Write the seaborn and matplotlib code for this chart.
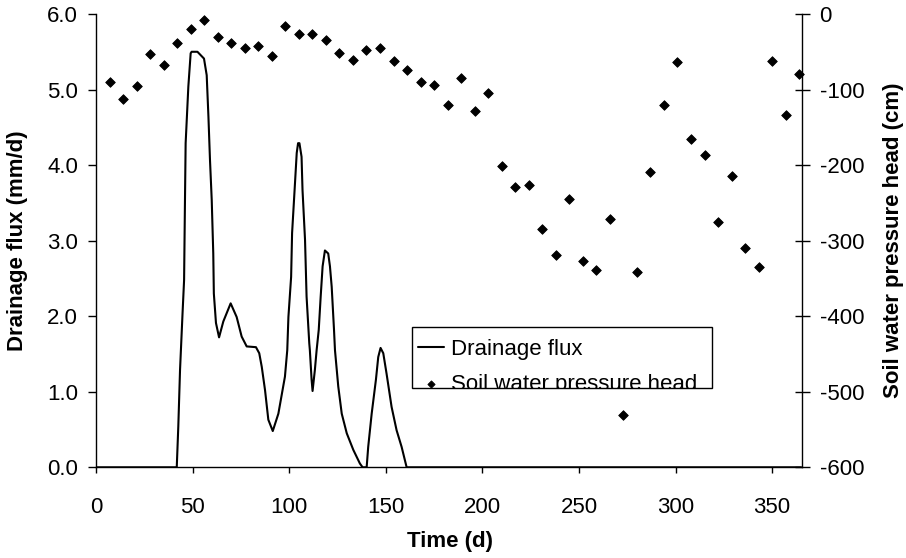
import matplotlib
matplotlib.use("Agg")
import matplotlib.pyplot as plt
from matplotlib.patches import Rectangle
from matplotlib.transforms import TransformedBbox, Bbox
import seaborn as sns
import pandas as pd

# ---- data ----
flux_day = [0, 41.8, 42.6, 43.5, 44.8, 45.6, 46.0, 46.4, 47.8, 49.0, 49.5, 52.5,
            55.9, 57.3, 58.2, 59.0, 59.9, 60.7, 61.0, 62.1, 63.7, 65.9, 69.7,
            72.8, 75.4, 78.0, 82.8, 84.5, 85.8, 87.5, 89.2, 91.5, 94.4, 97.8,
            99.0, 99.6, 101.0, 101.5, 103.0, 103.9, 104.6, 105.3, 106.4, 106.9,
            108.2, 109.0, 110.4, 110.7, 111.6, 112.1, 113.3, 114.2, 115.3,
            116.3, 117.3, 118.5, 120.2, 121.1, 122.0, 123.2, 123.7, 125.4,
            127.2, 129.8, 133.2, 136.6, 138.0, 140.1, 140.9, 142.7, 144.9,
            146.1, 147.3, 148.7, 150.4, 153.0, 155.6, 158.2, 160.8, 365]
flux_val = [0, 0, 0.54, 1.29, 2.04, 2.48, 3.41, 4.29, 5.04, 5.48, 5.50, 5.50,
            5.41, 5.19, 4.64, 4.07, 3.54, 2.83, 2.30, 1.91, 1.72, 1.93, 2.17,
            1.99, 1.73, 1.60, 1.59, 1.51, 1.33, 1.02, 0.63, 0.48, 0.71, 1.20,
            1.55, 1.99, 2.52, 3.10, 3.76, 4.16, 4.29, 4.29, 4.11, 3.67,
            3.01, 2.26, 1.64, 1.55, 1.16, 1.01, 1.29, 1.55, 1.82,
            2.26, 2.66, 2.87, 2.83, 2.66, 2.39, 1.82, 1.55, 1.07,
            0.71, 0.45, 0.23, 0.05, 0, 0, 0.27, 0.71, 1.16,
            1.46, 1.58, 1.51, 1.24, 0.80, 0.49, 0.27, 0, 0]

head_day = [7, 14, 21, 28, 35, 42, 49, 56, 63, 70, 77, 84, 91, 98, 105, 112, 119,
            126, 133, 140, 147, 154, 161, 168, 175, 182, 189, 196, 203, 210, 217,
            224, 231, 238, 245, 252, 259, 266, 273, 280, 287, 294, 301, 308, 315,
            322, 329, 336, 343, 350, 357, 364]
head_val = [-90, -112, -95, -53, -67, -39, -20, -8, -31, -39, -45, -43, -56, -16,
            -26, -27, -34, -52, -61, -48, -45, -62, -74, -90, -94, -121, -85, -129,
            -105, -201, -229, -227, -284, -319, -245, -327, -339, -272, -531, -342,
            -209, -121, -63, -165, -186, -275, -214, -310, -335, -62, -134, -80]

x_ticks = [0, 50, 100, 150, 200, 250, 300, 350]
left_ticks = [0, 1, 2, 3, 4, 5, 6]
right_ticks = [0, -100, -200, -300, -400, -500, -600]

x_label = "Time (d)"
left_label = "Drainage flux (mm/d)"
right_label = "Soil water pressure head (cm)"
series_labels = ["Drainage flux", "Soil water pressure head"]

flux_df = pd.DataFrame({"day": flux_day, "flux": flux_val})
head_df = pd.DataFrame({"day": head_day, "head": head_val})

# ---- style ----
sns.set_theme(style="white")
plt.rcParams["font.family"] = ["Liberation Sans", "DejaVu Sans"]
plt.rcParams["axes.unicode_minus"] = False
FS = 16

W, H = 906, 558
fig = plt.figure(figsize=(W / 100, H / 100), dpi=100)
L, R, T, B = 96, 802.3, 14, 467.3
ax = fig.add_axes([L / W, 1 - B / H, (R - L) / W, (B - T) / H])
ax2 = ax.twinx()

sns.lineplot(data=flux_df, x="day", y="flux", ax=ax, color="black",
             linewidth=1.5, estimator=None, sort=False, label=series_labels[0])
sns.scatterplot(data=head_df, x="day", y="head", ax=ax2, color="black",
                marker="D", s=24, linewidth=0.6, edgecolor="black",
                label=series_labels[1], clip_on=False, zorder=3)

for a in (ax, ax2):
    lg = a.get_legend()
    if lg is not None:
        lg.remove()
    a.set_facecolor("none")
    a.grid(False)

ax.set_xlim(0, 365.6)
ax.set_ylim(0, 6)
ax2.set_ylim(-600, 0)
ax.set_xticks(x_ticks)
ax.set_xticklabels([str(v) for v in x_ticks])
ax.set_yticks(left_ticks)
ax.set_yticklabels([f"{v:.1f}" for v in left_ticks])
ax2.set_yticks(right_ticks)
ax2.set_yticklabels([str(v) for v in right_ticks])

for s in ["top", "right"]:
    ax.spines[s].set_visible(False)
for s in ["top", "left", "bottom"]:
    ax2.spines[s].set_visible(False)
for s in ["left", "bottom"]:
    ax.spines[s].set_color("black")
    ax.spines[s].set_linewidth(1.0)
ax2.spines["right"].set_color("black")
ax2.spines["right"].set_linewidth(1.0)

ax.tick_params(axis="x", direction="out", length=4.3, width=1.0, color="black",
               labelsize=FS, pad=17, labelcolor="black", bottom=True)
ax.tick_params(axis="y", direction="out", length=5.8, width=1.0, color="black",
               labelsize=FS, pad=7, labelcolor="black", left=True)
ax2.tick_params(axis="y", direction="inout", length=10.8, width=1.0, color="black",
                labelsize=FS, pad=7, labelcolor="black", right=True)

ax.set_xlabel(x_label, fontsize=FS, fontweight="bold", color="black")
ax.set_ylabel(left_label, fontsize=FS, fontweight="bold", color="black")
ax2.set_ylabel(right_label, fontsize=FS, fontweight="bold", color="black")
ax.xaxis.set_label_coords(0.501, -0.14)
ax.yaxis.set_label_coords(-0.0959, 0.5)
ax2.yaxis.set_label_coords(1.1143, 0.5)

# ---- legend ----
h1, l1 = ax.get_legend_handles_labels()
h2, l2 = ax2.get_legend_handles_labels()
leg = ax.legend(h1 + h2, l1 + l2, loc="upper left",
                bbox_to_anchor=(418 / W, 1 - 339 / H), bbox_transform=fig.transFigure,
                frameon=False, fontsize=FS, handlelength=1.15, handletextpad=0.32,
                labelspacing=0.62, borderpad=0, borderaxespad=0, markerscale=0.75)
for t in leg.get_texts():
    t.set_color("black")
box = (411.7, 326.7, 712.3, 387.7)
rect = Rectangle((box[0] / W, 1 - box[3] / H), (box[2] - box[0]) / W,
                 (box[3] - box[1]) / H, transform=fig.transFigure, fill=False,
                 edgecolor="black", linewidth=1.0, zorder=5)
fig.add_artist(rect)
clip = TransformedBbox(Bbox([[box[0] / W, 1 - box[3] / H], [box[2] / W, 1 - box[1] / H]]),
                       fig.transFigure)
for t in leg.get_texts():
    t.set_clip_box(clip)
    t.set_clip_on(True)

fig.savefig("out.png", dpi=100, facecolor="white")
